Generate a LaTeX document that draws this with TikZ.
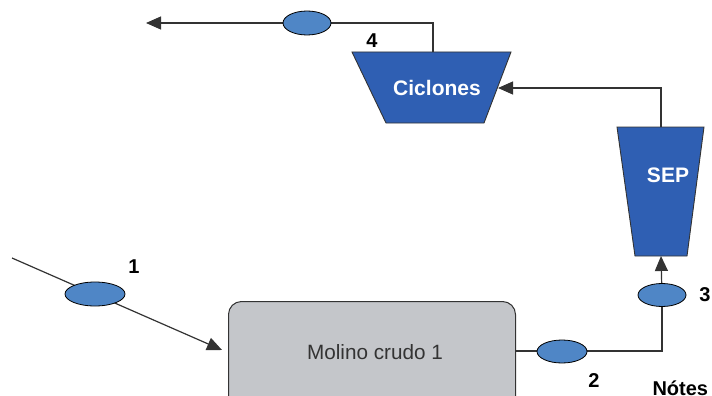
\documentclass[tikz,border=0pt]{standalone}
\usepackage{fontspec}
\setmainfont{Liberation Sans}
\usetikzlibrary{arrows.meta,shapes.geometric}
\definecolor{streamfill}{HTML}{4F86C6}
\definecolor{unitblue}{HTML}{2F5FB3}
\definecolor{millgrey}{HTML}{C4C6CA}
\definecolor{linegrey}{HTML}{333333}
\tikzset{
  pipe/.style={draw=linegrey, line width=1.2pt},
  flow/.style={pipe, -{Triangle[length=15pt,width=13pt]}},
  stream/.style={ellipse, draw=black, line width=0.8pt, fill=streamfill, inner sep=0pt},
  unit/.style={draw=linegrey, line width=0.9pt, fill=unitblue},
  unitlabel/.style={text=white, font=\fontsize{21}{24}\selectfont\bfseries},
  numlabel/.style={font=\fontsize{20}{23}\selectfont\bfseries},
}
\begin{document}
\begin{tikzpicture}[x=1pt, y=-1pt]
\useasboundingbox (0,0) rectangle (712,396);
\begin{scope}
\clip (0,0) rectangle (712,396);

% raw mill
\node[draw=linegrey, line width=1pt, fill=millgrey, rounded corners=13pt,
      minimum width=287pt, minimum height=120pt, anchor=north west] (mill) at (228,301) {};
\node[font=\fontsize{20.7}{25}\selectfont, text=black!80] (millText) at (375,352) {Molino crudo 1};

% cyclones
\draw[unit] (352,52) -- (511,52) -- (484,123) -- (386,123) -- cycle;
\node[unitlabel] (cic) at (437,88) {Ciclones};
\coordinate (cicTop) at (433,52);
\coordinate (cicIn) at (498,88);

% separator
\draw[unit] (617,127) -- (704,127) -- (687,256) -- (635,256) -- cycle;
\node[unitlabel] (sep) at (668,175) {SEP};
\coordinate (sepTop) at (661,127);
\coordinate (sepIn) at (661,256);

% connectors
\coordinate (feed) at (12,258);
\coordinate (millIn) at (222,350);
\coordinate (millOut) at (515,351);
\coordinate (c3) at (662,351);
\coordinate (c4) at (433,23);
\coordinate (exit) at (146,23);
\coordinate (sepTurn) at (661,88);

\draw[flow] (feed) -- (millIn);
\draw[pipe] (millOut) -- (c3) -- (662,296);
\draw[flow] (662,296) -- (sepIn);
\draw[flow] (sepTop) -- (sepTurn) -- (cicIn);
\draw[pipe] (cicTop) -- (c4) -- (307,23);
\draw[flow] (307,23) -- (exit);

% stream markers
\node[stream, minimum width=60pt, minimum height=24pt] (e1) at (95,294) {};
\node[stream, minimum width=50pt, minimum height=23pt] (e2) at (562,351.5) {};
\node[stream, minimum width=48pt, minimum height=23pt] (e3) at (662,295) {};
\node[stream, minimum width=48pt, minimum height=24pt] (e4) at (307,23) {};

% stream numbers
\node[numlabel] (n1) at (134,267) {1};
\node[numlabel] (n2) at (594,381) {2};
\node[numlabel] (n3) at (705,295) {3};
\node[numlabel] (n4) at (372,41) {4};
\node[numlabel, anchor=west] (notes) at (649,388) {Nótes};
\end{scope}
\end{tikzpicture}
\end{document}
